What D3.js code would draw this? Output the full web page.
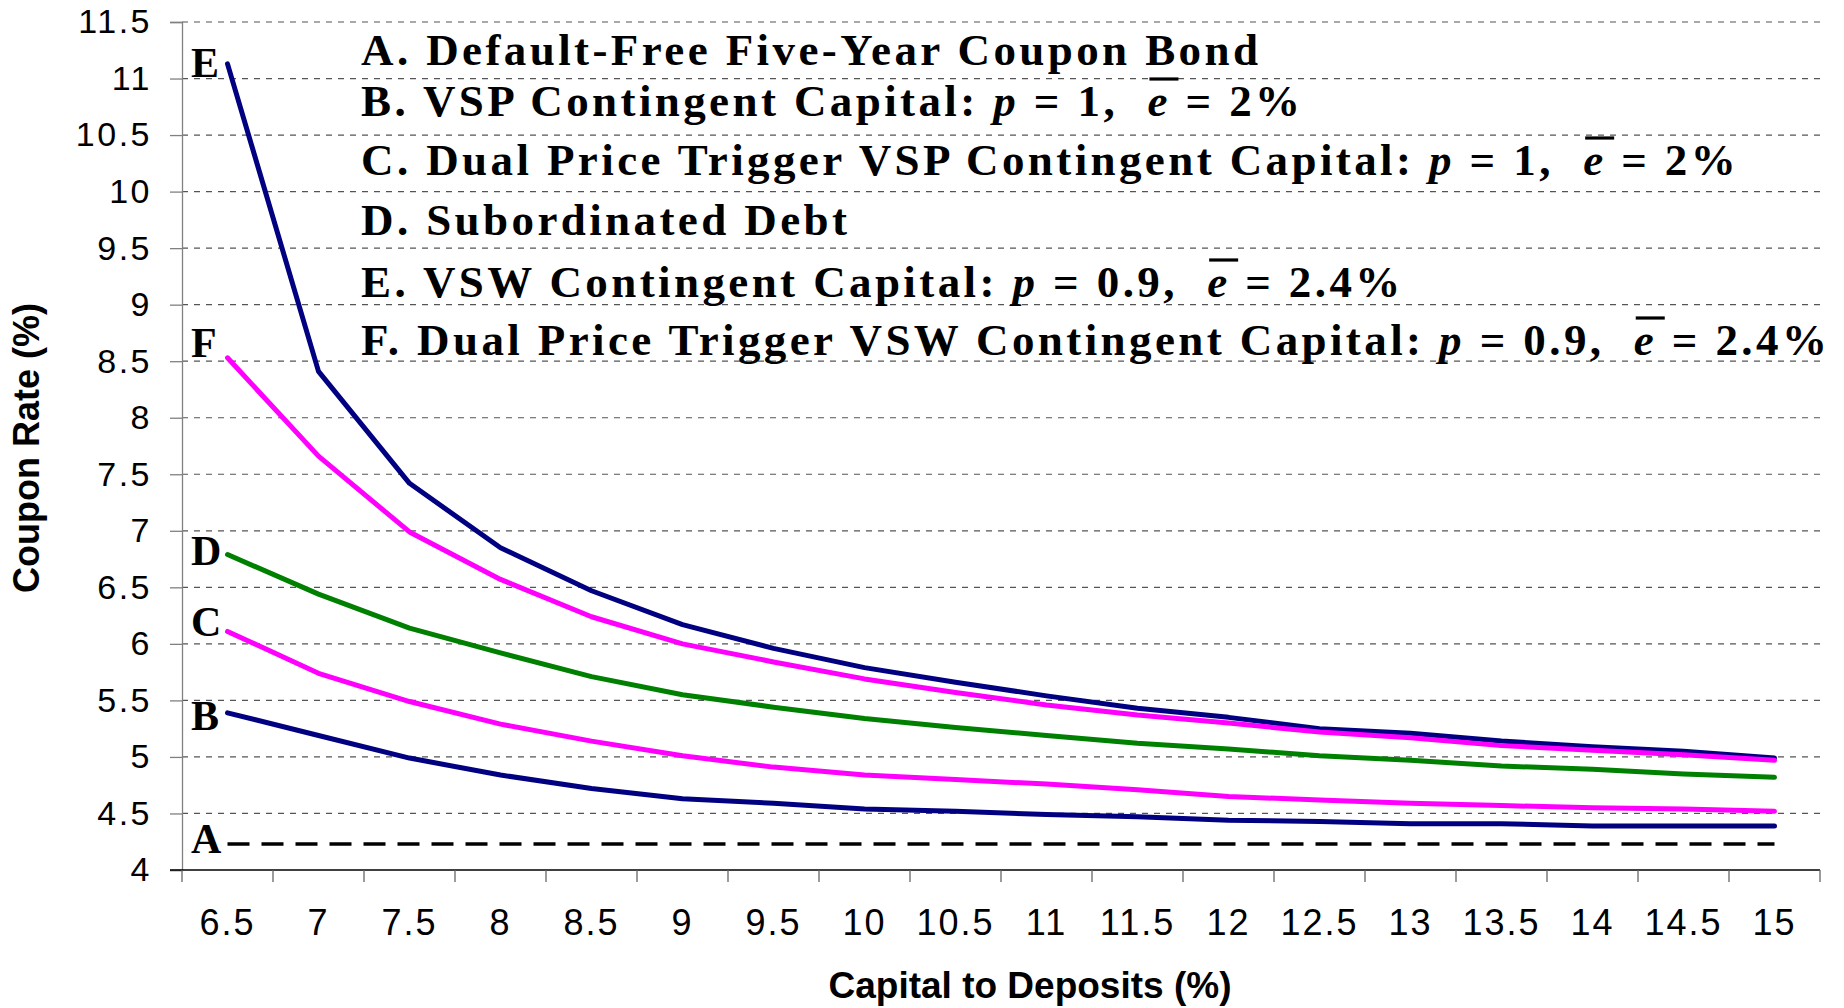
<!DOCTYPE html>
<html lang="en">
<head>
    <meta charset="UTF-8">
    <title>Coupon Rate vs Capital to Deposits</title>
</head>

<style>

body {
    margin: 0;
    background: white;
}

.tick-label {
    font-family: 'Liberation Sans', Arial, sans-serif;
    fill: black;
}

.axis-title {
    font-family: 'Liberation Sans', Arial, sans-serif;
    font-weight: bold;
    font-size: 37px;
    fill: black;
}

.legend-row, .curve-letter {
    font-family: 'Liberation Serif', 'Times New Roman', serif;
    font-weight: bold;
    fill: black;
}

.gridline {
    stroke: #555;
    stroke-width: 1.2;
    stroke-dasharray: 6, 6;
}

</style>

<body>
<svg height="1008" width="1844"></svg>

<script src="https://d3js.org/d3.v7.min.js"></script>

<script>

    var translate = function(left, top) {
        return "translate(" + left + "," + top + ")";
    };

    // capital to deposits (%)
    var categories = [6.5, 7, 7.5, 8, 8.5, 9, 9.5, 10, 10.5, 11, 11.5, 12, 12.5, 13, 13.5, 14, 14.5, 15];

    var yTicks = [4, 4.5, 5, 5.5, 6, 6.5, 7, 7.5, 8, 8.5, 9, 9.5, 10, 10.5, 11, 11.5];

    // coupon rates (%)
    var seriesA = [4.23, 4.23, 4.23, 4.23, 4.23, 4.23, 4.23, 4.23, 4.23, 4.23, 4.23, 4.23, 4.23, 4.23, 4.23, 4.23, 4.23, 4.23];
    var seriesB = [5.39, 5.19, 4.99, 4.84, 4.72, 4.63, 4.59, 4.54, 4.52, 4.49, 4.47, 4.44, 4.43, 4.41, 4.41, 4.39, 4.39, 4.39];
    var seriesC = [6.11, 5.74, 5.49, 5.29, 5.14, 5.01, 4.91, 4.84, 4.80, 4.76, 4.71, 4.65, 4.62, 4.59, 4.57, 4.55, 4.54, 4.52];
    var seriesD = [6.79, 6.44, 6.14, 5.92, 5.71, 5.55, 5.44, 5.34, 5.26, 5.19, 5.12, 5.07, 5.01, 4.97, 4.92, 4.89, 4.85, 4.82];
    var seriesE = [11.13, 8.41, 7.42, 6.85, 6.47, 6.17, 5.96, 5.79, 5.66, 5.54, 5.43, 5.35, 5.25, 5.21, 5.14, 5.09, 5.05, 4.99];
    var seriesF = [8.53, 7.66, 6.99, 6.57, 6.24, 6.00, 5.84, 5.69, 5.57, 5.46, 5.37, 5.30, 5.22, 5.17, 5.10, 5.06, 5.02, 4.97];

    // legend rows: [text, italic, overline]
    var legendRows = [
        [["A. Default-Free Five-Year Coupon Bond"]],
        [["B. VSP Contingent Capital: "], ["p", 1], [" = 1,  "], ["e", 1, 1], [" = 2%"]],
        [["C. Dual Price Trigger VSP Contingent Capital: "], ["p", 1], [" = 1,  "], ["e", 1, 1], [" = 2%"]],
        [["D. Subordinated Debt"]],
        [["E. VSW Contingent Capital: "], ["p", 1], [" = 0.9,  "], ["e", 1, 1], [" = 2.4%"]],
        [["F. Dual Price Trigger VSW Contingent Capital: "], ["p", 1], [" = 0.9,  "], ["e", 1, 1], [" = 2.4%"]]
    ];

    // drawing order: E under F, like the original
    var series = [
        {name: "A", values: seriesA, color: "#000000", width: 3.5, dash: "22,12", nudge: -5},
        {name: "B", values: seriesB, color: "#000080", width: 5, dash: null, nudge: 3},
        {name: "C", values: seriesC, color: "#ff00ff", width: 5, dash: null, nudge: -9},
        {name: "D", values: seriesD, color: "#008000", width: 5, dash: null, nudge: -4},
        {name: "E", values: seriesE, color: "#000080", width: 5, dash: null, nudge: -1},
        {name: "F", values: seriesF, color: "#ff00ff", width: 5, dash: null, nudge: -15}
    ];

    var svg = d3.select("svg");

    var plot = {left: 182, right: 1820, top: 22, bottom: 870};
    var legendBaselines = [65, 116, 175, 235, 297, 355];

    var x = d3.scaleBand()
        .domain(categories)
        .range([plot.left, plot.right]);

    var y = d3.scaleLinear()
        .domain([4, 11.5])
        .range([plot.bottom, plot.top]);

    // gridlines
    svg.append("g")
        .selectAll("line")
        .data(yTicks.filter(function(d) { return d > 4; }))
        .enter()
        .append("line")
        .attr("class", "gridline")
        .attr("x1", plot.left)
        .attr("x2", plot.right)
        .attr("y1", function(d) { return y(d); })
        .attr("y2", function(d) { return y(d); });

    // y axis
    var yAxis = svg.append("g")
        .attr("transform", translate(plot.left, 0))
        .call(d3.axisLeft(y).tickValues(yTicks).tickSize(12).tickPadding(18).tickFormat(d3.format("")));

    yAxis.select(".domain").attr("stroke", "#808080").attr("stroke-width", 1.3);
    yAxis.selectAll(".tick line").attr("stroke", "#808080").attr("stroke-width", 1.3);
    yAxis.selectAll(".tick text")
        .attr("class", "tick-label")
        .style("font-size", "34px")
        .style("letter-spacing", "2.5px");

    // x axis: labels at band centres, ticks at band edges
    var xAxis = svg.append("g")
        .attr("transform", translate(0, plot.bottom))
        .call(d3.axisBottom(x).tickSize(0).tickPadding(39).tickFormat(d3.format("")));

    xAxis.select(".domain").remove();
    xAxis.selectAll(".tick text")
        .attr("class", "tick-label")
        .style("font-size", "36px")
        .style("letter-spacing", "2px");

    svg.append("line")
        .attr("x1", plot.left - 12)
        .attr("x2", plot.right)
        .attr("y1", plot.bottom)
        .attr("y2", plot.bottom)
        .attr("stroke", "#000")
        .attr("stroke-width", 1.3);

    svg.append("g")
        .selectAll("line")
        .data(d3.range(categories.length + 1))
        .enter()
        .append("line")
        .attr("x1", function(i) { return plot.left + i * x.step(); })
        .attr("x2", function(i) { return plot.left + i * x.step(); })
        .attr("y1", plot.bottom)
        .attr("y2", plot.bottom + 12)
        .attr("stroke", "#666")
        .attr("stroke-width", 1.3);

    // axis titles
    svg.append("text")
        .attr("class", "axis-title")
        .attr("text-anchor", "middle")
        .attr("transform", translate(39, 448) + " rotate(-90)")
        .style("font-size", "36px")
        .text("Coupon Rate (%)");

    svg.append("text")
        .attr("class", "axis-title")
        .attr("text-anchor", "middle")
        .attr("x", 1030)
        .attr("y", 998)
        .text("Capital to Deposits (%)");

    // curves
    var line = d3.line()
        .x(function(d, i) { return x(categories[i]) + x.bandwidth() / 2; })
        .y(function(d) { return y(d); });

    svg.append("g")
        .selectAll("path")
        .data(series)
        .enter()
        .append("path")
        .attr("d", function(d) { return line(d.values); })
        .attr("fill", "none")
        .attr("stroke", function(d) { return d.color; })
        .attr("stroke-width", function(d) { return d.width; })
        .attr("stroke-dasharray", function(d) { return d.dash; })
        .attr("stroke-linecap", function(d) { return d.dash ? "butt" : "round"; })
        .attr("stroke-linejoin", "round");

    // letters next to curve starts
    svg.append("g")
        .selectAll("text")
        .data(series)
        .enter()
        .append("text")
        .attr("class", "curve-letter")
        .style("font-size", "42px")
        .attr("x", 191)
        .attr("y", function(d) { return y(d.values[0]) + 14 + d.nudge; })
        .text(function(d) { return d.name; });

    // legend block
    var legend = svg.append("g");

    var rows = legend.selectAll("text")
        .data(legendRows)
        .enter()
        .append("text")
        .attr("class", "legend-row")
        .style("font-size", "45px")
        .style("letter-spacing", "3.4px")
        .attr("x", 361)
        .attr("y", function(d, i) { return legendBaselines[i]; })
        .attr("xml:space", "preserve");

    rows.selectAll("tspan")
        .data(function(d) { return d; })
        .enter()
        .append("tspan")
        .style("font-style", function(d) { return d[1] ? "italic" : null; })
        .text(function(d) { return d[0]; });

    // bar over the e
    rows.each(function(row, i) {
        d3.select(this).selectAll("tspan").each(function(d) {
            if (!d[2]) return;
            var start = this.getStartPositionOfChar(0);
            legend.append("line")
                .attr("x1", start.x + 2)
                .attr("x2", start.x + 31)
                .attr("y1", legendBaselines[i] - 37)
                .attr("y2", legendBaselines[i] - 37)
                .attr("stroke", "#000")
                .attr("stroke-width", 3.2);
        });
    });

</script>
</body>
</html>
